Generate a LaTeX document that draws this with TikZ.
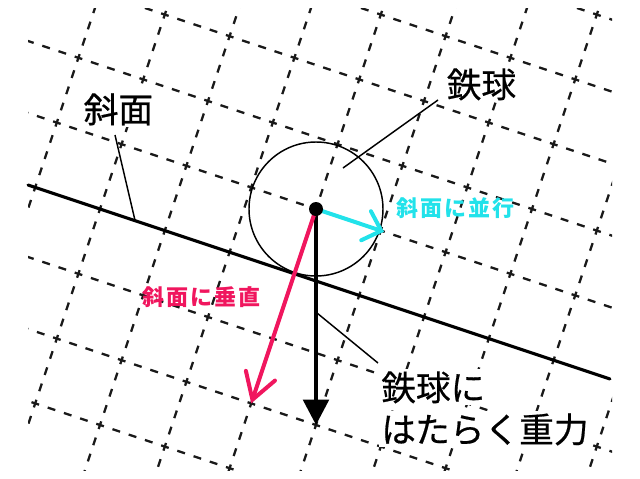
\documentclass[tikz,border=0pt]{standalone}
\usepackage{fontspec}
\usetikzlibrary{arrows.meta,calc}
\newfontfamily\jp{Noto Sans CJK JP}
\newfontfamily\jpm{Noto Sans CJK JP}[FakeBold=0.5]
\definecolor{cyanlbl}{HTML}{22E2EA}
\definecolor{pinklbl}{HTML}{F0165E}
\tikzset{
  gridline/.style={line width=1.7pt,color=black!90,dash pattern=on 6pt off 6.81pt,dash phase=3pt},
  slopeline/.style={line width=2.3pt,line cap=round},
  leader/.style={line width=1.1pt},
  blklbl/.style={font=\jpm\fontsize{26}{32}\selectfont,fill=white,inner sep=1.5pt,anchor=base west},
  collbl/.style={font=\jp\bfseries\fontsize{16.5}{20}\selectfont,inner sep=0pt,anchor=base west},
  vec/.style={line width=3pt},
}
\begin{document}
\begin{tikzpicture}[x=0.75pt,y=-0.75pt]
\useasboundingbox (0,0) rectangle (640,479);
\coordinate (c) at (316,209);
% tilted dashed grid
\begin{scope}
  \clip (28,8) rectangle (612,470);
  \begin{scope}[shift={(316,209)},x={(48.6pt,-16.2pt)},y={(-16.2pt,-48.6pt)}]
    \foreach \j in {-5,...,5} { \draw[gridline] (-9,\j) -- (9,\j); }
    \foreach \i in {-7,...,7} { \draw[gridline] (\i,-9) -- (\i,9); }
  \end{scope}
\end{scope}
% slope
\coordinate (sL) at (28,185);
\coordinate (sR) at (610,379);
\draw[slopeline] (sL) -- (sR);
% ball
\node[draw,circle,line width=1.1pt,minimum size=100.5pt,inner sep=0pt] (ball) at (c) {};
% vectors
\coordinate (gtip) at (316,425);
\coordinate (ptip) at (251.2,403.4);
\coordinate (qtip) at (384,231.7);
\draw[vec,line width=3.2pt,-{Triangle[length=19pt,width=19pt]}] (c) -- (gtip);
\draw[vec,pinklbl,line cap=round,-{Straight Barb[length=19pt,width=23pt,line cap=round]}] (c) -- (ptip);
\draw[vec,cyanlbl,line cap=round,-{Straight Barb[length=12pt,width=23pt,line cap=round]}] (c) -- (qtip);
\node[fill,circle,inner sep=0pt,minimum size=10.5pt] (dot) at (c) {};
% labels
\node[blklbl] (lslope) at (81.5,122.5) {斜面};
\node[blklbl] (lball) at (444.5,97.5) {鉄球};
\node[blklbl] (lgrav1) at (379,400.5) {鉄球に};
\node[blklbl] (lgrav2) at (379,442.5) {はたらく重力};
\node[collbl,cyanlbl] (lpar) at (396,216.5) {斜\kern1.5pt 面\kern1.5pt に\kern1.5pt 並\kern1.5pt 行};
\node[collbl,pinklbl] (lperp) at (142,305.5) {斜\kern1.5pt 面\kern1.5pt に\kern1.5pt 垂\kern1.5pt 直};
% leaders
\coordinate (ls0) at (115,135);
\coordinate (ls1) at ($(sL)!0.184!(sR)$);
\draw[leader] (ls0) -- (ls1);
\coordinate (lb0) at (438,100);
\coordinate (lb1) at (343,168);
\draw[leader] (lb0) -- (lb1);
\coordinate (lg0) at (317,313);
\coordinate (lg1) at (378,363);
\draw[leader] (lg0) -- (lg1);
\end{tikzpicture}
\end{document}
